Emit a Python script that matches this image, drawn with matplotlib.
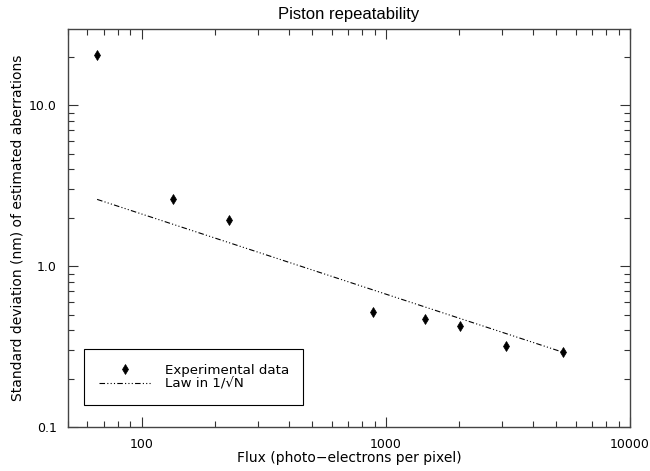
import matplotlib
matplotlib.use("Agg")
import matplotlib.pyplot as plt
from matplotlib.ticker import LogLocator, FixedLocator, FixedFormatter, NullFormatter

# Data
flux = [65.8, 135, 228, 885, 1450, 2020, 3110, 5330]
std_nm = [20.5, 2.63, 1.94, 0.519, 0.467, 0.427, 0.318, 0.294]
law_x = [65.8, 5330]
law_y = [2.6, 0.292]

title = "Piston repeatability"
xlabel = "Flux (photo\u2212electrons per pixel)"
ylabel = "Standard deviation (nm) of estimated aberrations"
xticks = [100, 1000, 10000]
xticklabels = ["100", "1000", "10000"]
yticks = [0.1, 1.0, 10.0]
yticklabels = ["0.1", "1.0", "10.0"]

plt.rcParams['font.family'] = ['DejaVu Sans']

fig = plt.figure(figsize=(6.5, 4.71), dpi=100)
ax = fig.add_axes([0.1046, 0.0928, 0.8646, 0.8456])

ax.plot(flux, std_nm, linestyle='none', marker='d', color='black',
        markersize=5, markeredgewidth=0.5, label='Experimental data')
ax.plot(law_x, law_y, color='black', linewidth=0.8,
        linestyle=(0, (5, 2, 1, 2, 1, 2, 1, 2)), label='Law in 1/\u221aN')

ax.set_xscale('log')
ax.set_yscale('log')
ax.set_xlim(50, 10000)
ax.set_ylim(0.1, 29.7)

ax.xaxis.set_major_locator(FixedLocator(xticks))
ax.xaxis.set_major_formatter(FixedFormatter(xticklabels))
ax.yaxis.set_major_locator(FixedLocator(yticks))
ax.yaxis.set_major_formatter(FixedFormatter(yticklabels))
ax.xaxis.set_minor_locator(LogLocator(base=10, subs=range(2, 10)))
ax.yaxis.set_minor_locator(LogLocator(base=10, subs=range(2, 10)))
ax.xaxis.set_minor_formatter(NullFormatter())
ax.yaxis.set_minor_formatter(NullFormatter())

ax.tick_params(which='both', direction='in', top=True, right=True,
               labelsize=9, width=0.8, color='#333333')
ax.tick_params(which='major', length=7, pad=8)
ax.tick_params(which='minor', length=4)
for s in ax.spines.values():
    s.set_linewidth(1.0)
    s.set_color('#444444')

ax.set_title(title, fontsize=12, family='Liberation Sans', pad=7)
ax.set_xlabel(xlabel, fontsize=10, labelpad=0)
ax.set_ylabel(ylabel, fontsize=10, labelpad=3)

leg = ax.legend(loc='lower left', bbox_to_anchor=(0.0285, 0.056, 0.39, 0.14),
                mode='expand', fancybox=False, edgecolor='black', framealpha=1,
                fontsize=9.6, borderpad=1.1, labelspacing=0.05, handlelength=4.0,
                handletextpad=1.0, borderaxespad=0)
leg.get_frame().set_linewidth(0.8)

fig.savefig('out.png', dpi=100)
